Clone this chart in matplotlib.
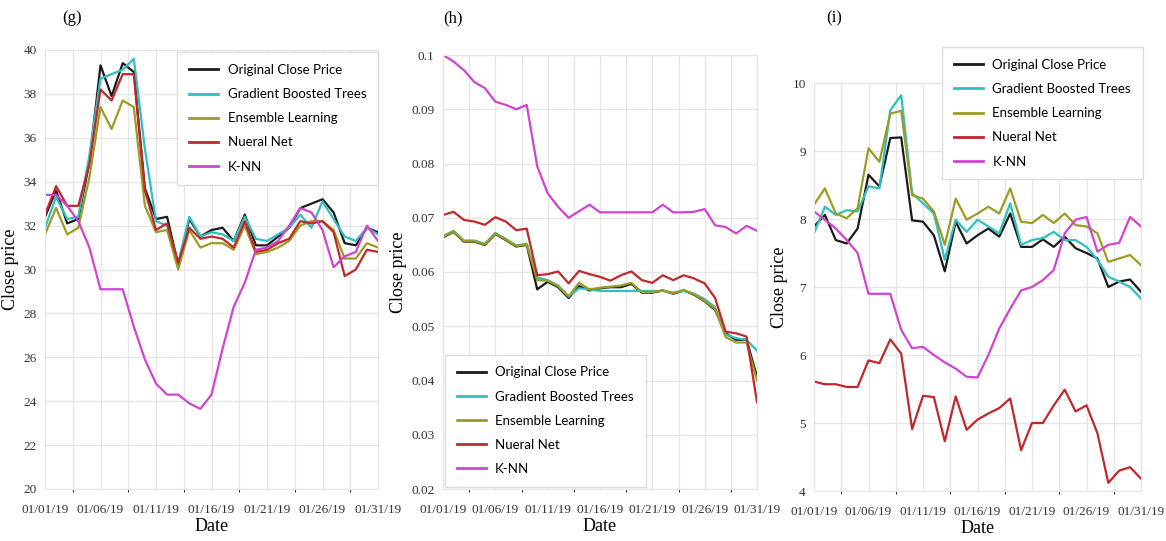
import matplotlib
matplotlib.use("Agg")
import matplotlib.pyplot as plt
from matplotlib.ticker import MultipleLocator

# shared x axis: 31 trading days of January 2019
date_labels = ["01/01/19", "01/06/19", "01/11/19", "01/16/19", "01/21/19", "01/26/19", "01/31/19"]
series_names = ["Original Close Price", "Gradient Boosted Trees", "Ensemble Learning", "Nueral Net", "K-NN"]
colors = ["#1a1a1a", "#2fbfc0", "#9c9c22", "#c0282d", "#d044d0"]

# (g)
g_orig = [32.4, 33.6, 32.1, 32.3, 34.9, 39.3, 37.9, 39.4, 39.0, 33.7, 32.3, 32.4, 30.2, 32.3, 31.5, 31.8,
          31.9, 31.3, 32.5, 31.1, 31.1, 31.5, 31.9, 32.8, 33.0, 33.2, 32.6, 31.2, 31.1, 31.9, 31.7]
g_gbt = [31.9, 33.3, 32.3, 32.4, 35.2, 38.7, 38.9, 39.1, 39.6, 35.5, 32.2, 32.0, 30.3, 32.4, 31.5, 31.7,
         31.6, 31.3, 32.4, 31.4, 31.3, 31.6, 31.9, 32.5, 31.9, 33.1, 32.3, 31.5, 31.3, 31.9, 31.6]
g_ens = [31.6, 32.8, 31.6, 31.9, 34.2, 37.4, 36.4, 37.7, 37.4, 32.9, 31.7, 31.8, 30.0, 31.8, 31.0, 31.2,
         31.2, 30.9, 32.0, 30.7, 30.8, 31.0, 31.3, 32.0, 32.2, 32.2, 31.8, 30.5, 30.5, 31.2, 31.0]
g_nn = [32.5, 33.8, 32.9, 32.9, 34.8, 38.2, 37.7, 38.9, 38.9, 33.6, 31.8, 32.1, 30.3, 31.9, 31.4, 31.5,
        31.4, 31.0, 32.2, 30.8, 30.9, 31.2, 31.4, 32.2, 32.1, 32.2, 31.7, 29.7, 30.0, 30.9, 30.8]
g_knn = [33.4, 33.4, 32.9, 32.2, 31.0, 29.1, 29.1, 29.1, 27.4, 25.9, 24.8, 24.3, 24.3, 23.9, 23.65, 24.3,
         26.4, 28.3, 29.4, 30.9, 31.0, 31.3, 32.0, 32.8, 32.6, 31.8, 30.1, 30.6, 30.8, 32.0, 31.3]

# (h)
h_orig = [0.0664, 0.0674, 0.0656, 0.0656, 0.0650, 0.0670, 0.0659, 0.0647, 0.0650, 0.0568, 0.0582,
          0.0572, 0.0552, 0.0574, 0.0566, 0.0570, 0.0572, 0.0572, 0.0578, 0.0562, 0.0562, 0.0566,
          0.0560, 0.0566, 0.0558, 0.0546, 0.0530, 0.0487, 0.0475, 0.0475, 0.0407]
h_gbt = [0.0666, 0.0676, 0.0658, 0.0658, 0.0652, 0.0672, 0.0661, 0.0649, 0.0652, 0.0590, 0.0585,
         0.0575, 0.0555, 0.0570, 0.0568, 0.0565, 0.0565, 0.0565, 0.0565, 0.0565, 0.0565, 0.0565,
         0.0562, 0.0565, 0.0560, 0.0550, 0.0535, 0.0485, 0.0478, 0.0475, 0.0455]
h_ens = [0.0665, 0.0675, 0.0657, 0.0657, 0.0651, 0.0671, 0.0660, 0.0648, 0.0651, 0.0585, 0.0584,
         0.0574, 0.0555, 0.0580, 0.0568, 0.0571, 0.0573, 0.0575, 0.0580, 0.0563, 0.0563, 0.0566,
         0.0561, 0.0567, 0.0559, 0.0547, 0.0532, 0.0480, 0.0470, 0.0470, 0.0400]
h_nn = [0.0705, 0.0711, 0.0696, 0.0693, 0.0687, 0.0701, 0.0693, 0.0677, 0.0680, 0.0594, 0.0596,
        0.0601, 0.0579, 0.0602, 0.0596, 0.0591, 0.0584, 0.0594, 0.0601, 0.0585, 0.0580, 0.0594,
        0.0585, 0.0594, 0.0588, 0.0579, 0.0552, 0.0490, 0.0487, 0.0481, 0.0360]
h_knn = [0.1000, 0.0988, 0.0972, 0.0950, 0.0939, 0.0914, 0.0908, 0.0900, 0.0908, 0.0795, 0.0745,
         0.0720, 0.0700, 0.0712, 0.0724, 0.0710, 0.0710, 0.0710, 0.0710, 0.0710, 0.0710, 0.0724,
         0.0710, 0.0710, 0.0711, 0.0716, 0.0686, 0.0683, 0.0671, 0.0685, 0.0676]

# (i)
i_orig = [7.89, 8.06, 7.69, 7.64, 7.86, 8.65, 8.48, 9.19, 9.20, 7.98, 7.96, 7.76, 7.23, 7.96, 7.64, 7.76,
          7.86, 7.74, 8.08, 7.59, 7.59, 7.70, 7.59, 7.74, 7.57, 7.50, 7.42, 7.00, 7.08, 7.11, 6.93]
i_gbt = [7.79, 8.18, 8.06, 8.13, 8.11, 8.48, 8.45, 9.60, 9.82, 8.38, 8.23, 8.08, 7.40, 7.99, 7.81, 7.99,
         7.89, 7.79, 8.23, 7.62, 7.69, 7.72, 7.81, 7.69, 7.69, 7.59, 7.40, 7.15, 7.08, 7.00, 6.83]
i_ens = [8.21, 8.45, 8.08, 8.01, 8.16, 9.04, 8.84, 9.55, 9.59, 8.35, 8.30, 8.11, 7.62, 8.30, 7.99, 8.08,
         8.18, 8.08, 8.45, 7.96, 7.94, 8.06, 7.94, 8.08, 7.91, 7.89, 7.79, 7.37, 7.42, 7.47, 7.32]
i_nn = [5.61, 5.57, 5.57, 5.53, 5.53, 5.92, 5.88, 6.23, 6.02, 4.91, 5.40, 5.38, 4.73, 5.39, 4.90, 5.05,
        5.14, 5.22, 5.36, 4.60, 5.00, 5.00, 5.26, 5.49, 5.17, 5.26, 4.85, 4.12, 4.30, 4.35, 4.18]
i_knn = [8.11, 7.99, 7.86, 7.69, 7.50, 6.90, 6.90, 6.90, 6.37, 6.10, 6.12, 6.00, 5.89, 5.80, 5.68, 5.67,
         6.00, 6.39, 6.68, 6.95, 7.00, 7.10, 7.25, 7.79, 7.99, 8.03, 7.52, 7.62, 7.65, 8.03, 7.89]

W, H = 1166, 541
fig = plt.figure(figsize=(W / 100, H / 100), dpi=100)

serif = "Liberation Serif"
legend_font = "Lato"


def px_axes(left, right, top, bottom):
    return fig.add_axes([left / W, (H - bottom) / H, (right - left) / W, (bottom - top) / H])


def style_panel(ax, ylim, ystep, yfmt):
    days = range(len(date_labels) * 5 - 4)
    ax.set_xlim(days[0], days[-1])
    ax.set_ylim(*ylim)
    ax.set_xticks(list(days)[::5])
    ax.set_xticklabels(date_labels, fontfamily=serif, fontsize=9.5, color="#333333")
    ax.xaxis.set_minor_locator(MultipleLocator(2.5))
    ax.yaxis.set_major_locator(MultipleLocator(ystep))
    ax.set_yticklabels([yfmt(v) for v in ax.get_yticks()], fontfamily=serif, fontsize=9.5, color="#333333")
    ax.tick_params(axis="x", length=0, pad=11)
    ax.tick_params(axis="y", length=0, pad=6)
    ax.grid(True, which="major", color="#e6e6e6", lw=1)
    ax.grid(True, which="minor", axis="x", color="#e6e6e6", lw=1)
    for s in ax.spines.values():
        s.set_color("#e6e6e6")
    ax.set_axisbelow(True)
    ax.set_xlabel("Date", fontfamily=serif, fontsize=13, labelpad=1)
    ax.set_ylabel("Close price", fontfamily=serif, fontsize=13, labelpad=3)


def draw_lines(ax, series):
    for vals, c, name in zip(series, colors, series_names):
        ax.plot(range(len(vals)), vals, color=c, lw=1.6, label=name)


def add_legend(ax, loc, anchor):
    leg = ax.legend(loc=loc, bbox_to_anchor=anchor, borderaxespad=0, fancybox=False,
                    prop={"family": legend_font, "size": 9.5}, handlelength=2.2,
                    labelspacing=0.92, borderpad=0.9, handletextpad=0.7, framealpha=1)
    leg.get_frame().set_edgecolor("#dddddd")
    leg.get_frame().set_linewidth(1)
    for line in leg.get_lines():
        line.set_linewidth(2)


ax_g = px_axes(45, 378, 50, 489)
draw_lines(ax_g, [g_orig, g_gbt, g_ens, g_nn, g_knn])
style_panel(ax_g, (20, 40), 2, lambda v: f"{v:.0f}")
add_legend(ax_g, "upper right", (1.0, 0.995))

ax_h = px_axes(443, 757, 55, 489)
draw_lines(ax_h, [h_orig, h_gbt, h_ens, h_nn, h_knn])
style_panel(ax_h, (0.02, 0.1), 0.01, lambda v: f"{v:.2f}".rstrip("0") if abs(v - 0.1) < 1e-9 else f"{v:.2f}")
add_legend(ax_h, "lower left", (0.006, 0.005))

ax_i = px_axes(814, 1141, 83, 491)
draw_lines(ax_i, [i_orig, i_gbt, i_ens, i_nn, i_knn])
style_panel(ax_i, (4, 10), 1, lambda v: f"{v:.0f}")
add_legend(ax_i, "upper right", (1.006, 1.088))

for x, lab in [(72, "(g)"), (453, "(h)"), (834, "(i)")]:
    fig.text(x / W, 1 - 18 / H, lab, fontfamily=serif, fontsize=12, ha="center", va="center")

fig.savefig("out.png", dpi=100)
